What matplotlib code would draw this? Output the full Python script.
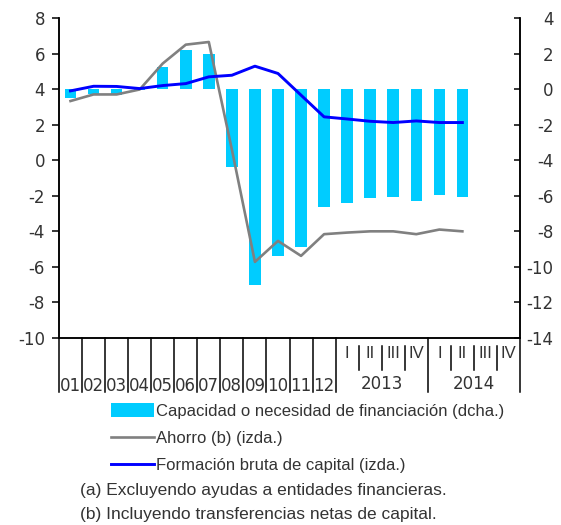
import numpy as np
import matplotlib
matplotlib.use("Agg")
import matplotlib.pyplot as plt
from matplotlib.patches import Patch
from matplotlib.lines import Line2D

plt.rcParams['axes.unicode_minus'] = False

# categorias: años 2001-2012 y trimestres 2013-2014
years = ['01', '02', '03', '04', '05', '06', '07', '08', '09', '10', '11', '12']
quarters = ['I', 'II', 'III', 'IV', 'I', 'II', 'III', 'IV']
quarter_years = ['2013', '2014']

# capacidad o necesidad de financiacion (dcha.)
capacidad = [-0.5, -0.3, -0.35, -0.05, 1.25, 2.2, 2.0, -4.4, -11.0, -9.4, -8.9,
             -6.65, -6.4, -6.15, -6.05, -6.3, -5.95, -6.05]
# ahorro (izda.)
ahorro = [3.33, 3.7, 3.7, 3.98, 5.44, 6.5, 6.65, 0.6, -5.72, -4.54, -5.38,
          -4.16, -4.07, -4.0, -4.0, -4.16, -3.9, -4.0]
# formacion bruta de capital (izda.)
fbc = [3.9, 4.16, 4.15, 4.03, 4.2, 4.31, 4.69, 4.78, 5.29, 4.88, 3.66,
       2.44, 2.32, 2.19, 2.12, 2.21, 2.12, 2.12]

legend_labels = ['Capacidad o necesidad de financiación (dcha.)',
                 'Ahorro (b) (izda.)',
                 'Formación bruta de capital (izda.)']
notes = ['(a) Excluyendo ayudas a entidades financieras.',
         '(b) Incluyendo transferencias netas de capital.']

CYAN = '#00CCFF'
GRAY = '#808080'
BLUE = '#0000FF'
TXT = '#333333'
textfont = ['Liberation Sans', 'DejaVu Sans']

n_cat = len(years) + len(quarters)
x = np.arange(len(capacidad))

fig = plt.figure(figsize=(5.61, 5.25), dpi=100)
ax = fig.add_axes([59/561, 1-338/525, 461/561, 320/525])
ax2 = ax.twinx()

ax2.bar(x, capacidad, width=0.5, color=CYAN, zorder=1)
ax.plot(x, ahorro, color=GRAY, lw=1.9, zorder=3)
ax.plot(x, fbc, color=BLUE, lw=2.1, zorder=4)
ax.set_zorder(2)
ax.patch.set_visible(False)

ax.set_xlim(-0.5, n_cat - 0.5)
ax.set_ylim(-10, 8)
ax.set_yticks(np.arange(-10, 9, 2))
ax2.set_ylim(-14, 4)
ax2.set_yticks(np.arange(-14, 5, 2))

ax.spines['top'].set_visible(False)
ax2.spines['top'].set_visible(False)
for a in (ax, ax2):
    for s in a.spines.values():
        s.set_linewidth(1.1)

ax.tick_params(axis='y', direction='out', length=5, width=1.1, pad=5,
               labelsize=12, labelcolor=TXT)
ax2.tick_params(axis='y', direction='in', length=4.5, width=1.1, pad=24,
                labelsize=12, labelcolor=TXT)
for lab in ax2.get_yticklabels():
    lab.set_horizontalalignment('right')
ax.set_xticks([])

# separadores y etiquetas del eje x
tr = ax.get_xaxis_transform()
long_sep = list(range(0, len(years) + 1)) + [len(years) + 4, n_cat]
short_sep = [len(years) + k for k in (1, 2, 3, 5, 6, 7)]
for b in long_sep:
    ax.plot([b - 0.5, b - 0.5], [0, -0.17], transform=tr, color='black',
            lw=1.1, clip_on=False)
for b in short_sep:
    ax.plot([b - 0.5, b - 0.5], [-0.025, -0.1], transform=tr, color='black',
            lw=1.1, clip_on=False)
for i, lab in enumerate(years):
    ax.text(i, -0.15, lab, transform=tr, ha='center', va='center',
            fontsize=12, color=TXT)
for i, lab in enumerate(quarters):
    ax.text(len(years) + i, -0.048, lab, transform=tr, ha='center',
            va='center', fontsize=12, color=TXT, family=textfont)
for k, lab in enumerate(quarter_years):
    ax.text(len(years) + 4*k + 1.5, -0.143, lab, transform=tr, ha='center',
            va='center', fontsize=12, color=TXT)

handles = [Patch(facecolor=CYAN, edgecolor='none'),
           Line2D([], [], color=GRAY, lw=1.9),
           Line2D([], [], color=BLUE, lw=2.1)]
fig.legend(handles, legend_labels, loc='upper left',
           bbox_to_anchor=(111/561, 1-403/525), frameon=False,
           handlelength=2.55, handleheight=0.95, handletextpad=0.15,
           labelspacing=0.68, borderaxespad=0, borderpad=0,
           prop={'family': textfont, 'size': 12}, labelcolor=TXT)

fig.text(80/561, 1-491/525, notes[0], ha='left', va='center', fontsize=12.5,
         color=TXT, family=textfont)
fig.text(80/561, 1-514/525, notes[1], ha='left', va='center', fontsize=12.5,
         color=TXT, family=textfont)

fig.savefig('out.png', dpi=100)
